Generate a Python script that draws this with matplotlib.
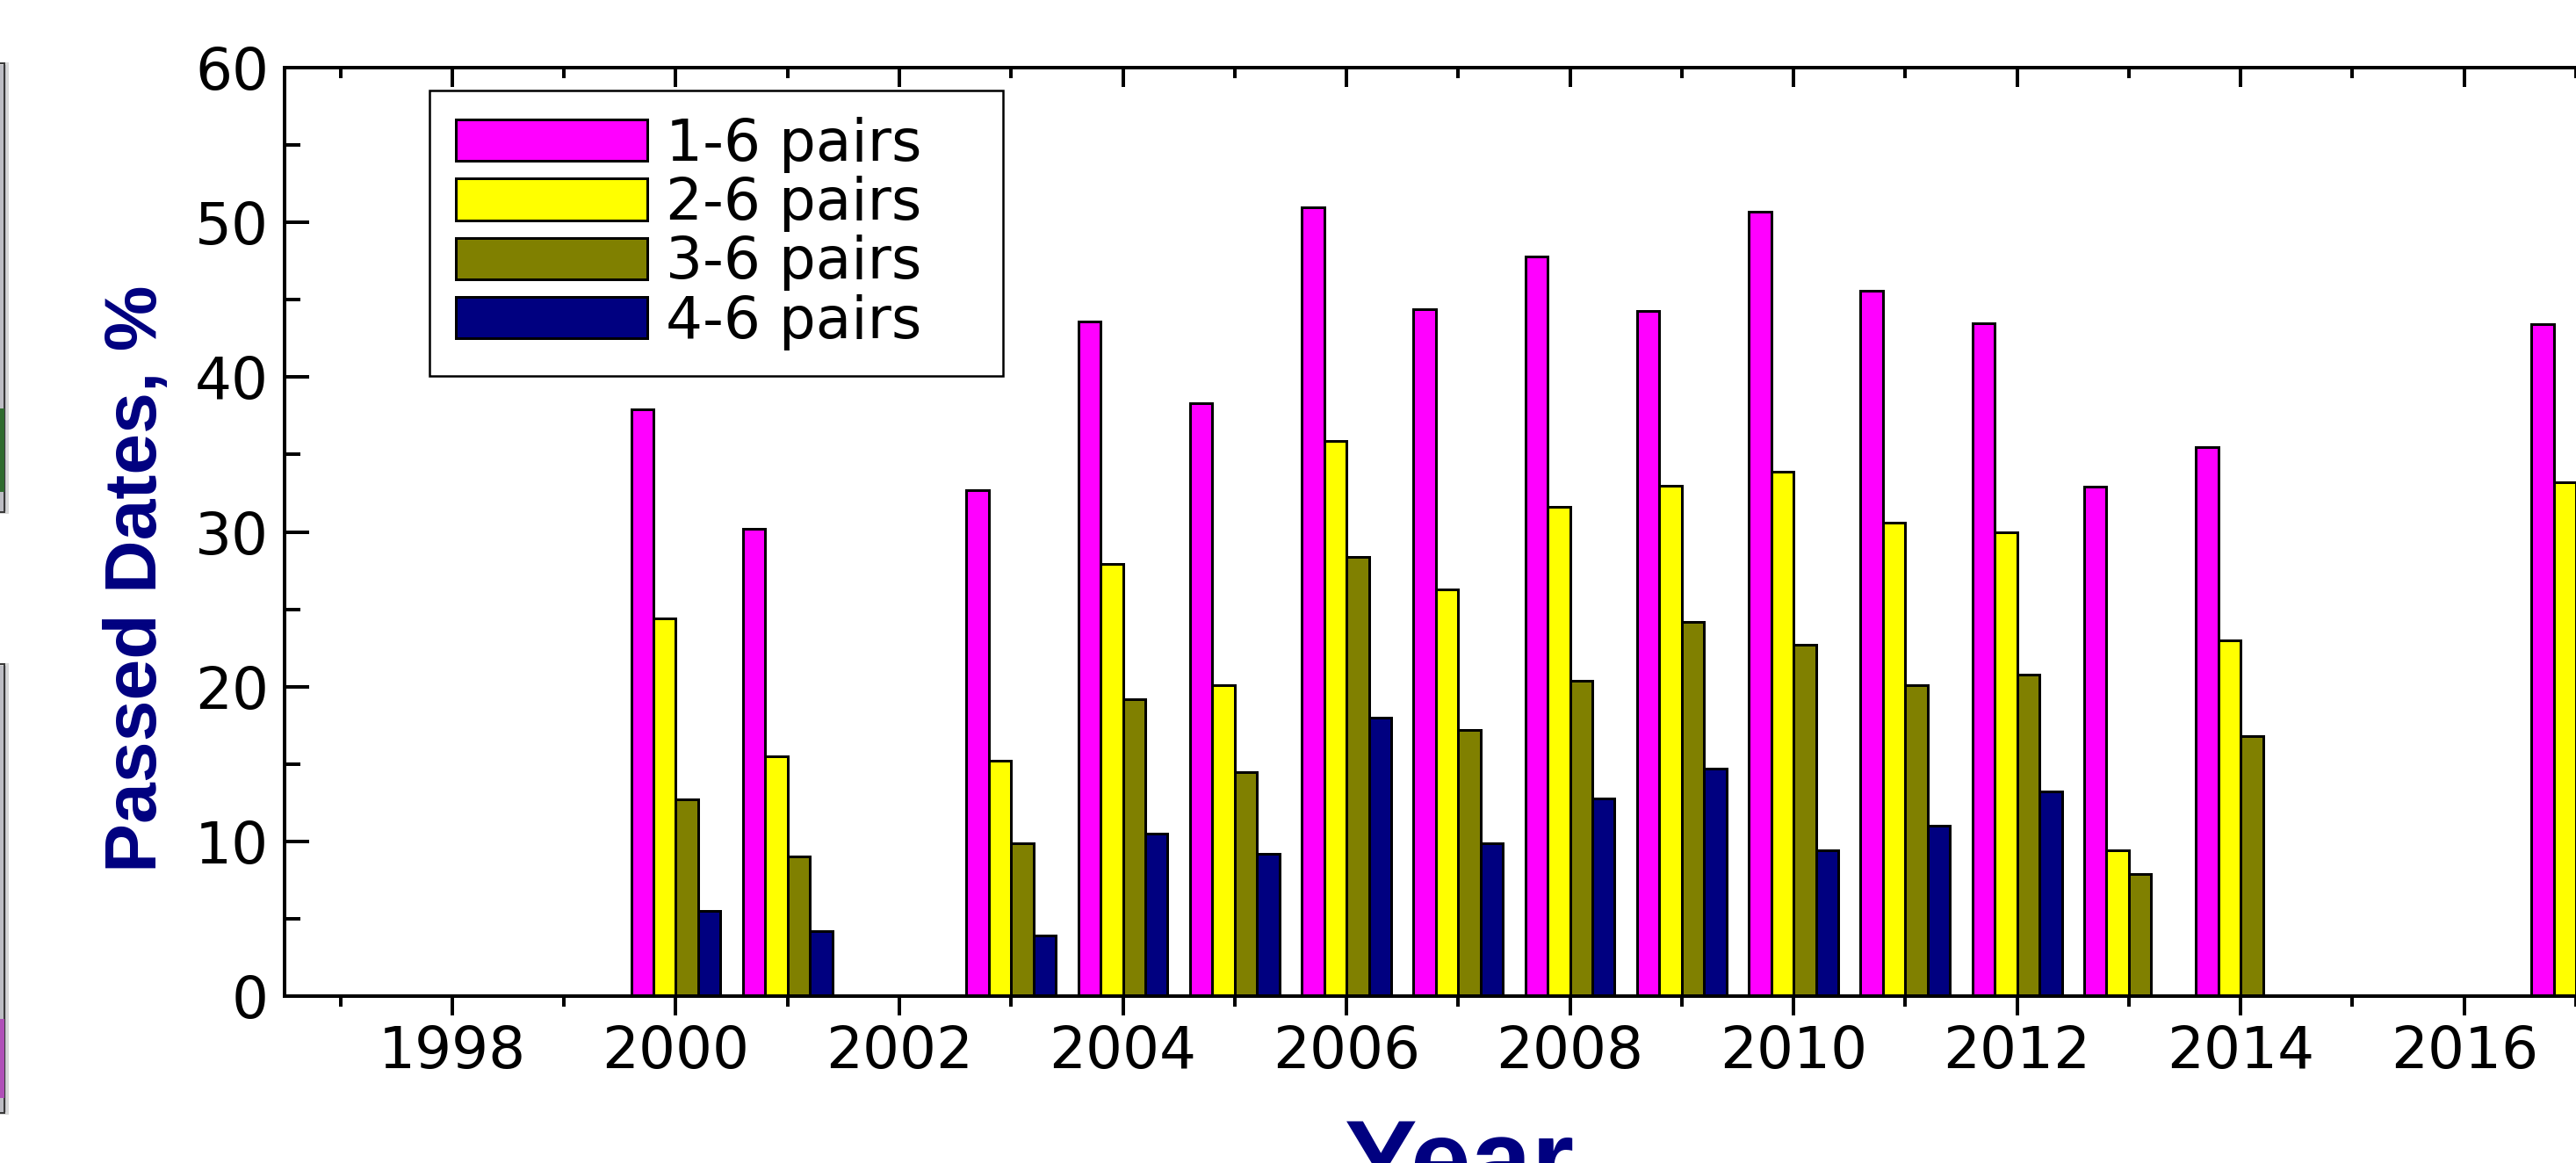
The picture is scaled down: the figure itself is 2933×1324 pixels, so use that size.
import numpy as np
import matplotlib
matplotlib.use("Agg")
import matplotlib.pyplot as plt
from matplotlib import font_manager
from matplotlib.patches import Rectangle

nan = np.nan

# values (percent of passed dates)
years = [2000, 2001, 2003, 2004, 2005, 2006, 2007, 2008, 2009, 2010, 2011, 2012, 2013, 2014, 2017]
pairs_1_6 = [37.9, 30.2, 32.7, 43.6, 38.3, 51.0, 44.4, 47.8, 44.3, 50.7, 45.6, 43.5, 32.9, 35.5, 43.4]
pairs_2_6 = [24.4, 15.5, 15.2, 27.9, 20.1, 35.9, 26.3, 31.6, 33.0, 33.9, 30.6, 30.0, 9.45, 23.0, 33.2]
pairs_3_6 = [12.7, 9.0, 9.9, 19.2, 14.5, 28.4, 17.2, 20.4, 24.2, 22.7, 20.1, 20.8, 7.9, 16.8, nan]
pairs_4_6 = [5.5, 4.2, 3.9, 10.5, 9.2, 18.0, 9.9, 12.8, 14.7, 9.4, 11.0, 13.2, nan, nan, nan]

labels = ["1-6 pairs", "2-6 pairs", "3-6 pairs", "4-6 pairs"]
colors = ["#FF00FF", "#FFFF00", "#808000", "#000080"]

xmajor = list(range(1998, 2017, 2))
xmajor_labels = [str(y) for y in xmajor]
xminor = list(range(1997, 2018))
ymajor = list(range(0, 61, 10))
yminor = list(range(5, 60, 10))

W, H, DPI = 2933, 1324, 100


def px(v):
    # pixels -> points
    return v * 72.0 / DPI


names = {f.name for f in font_manager.fontManager.ttflist}
narrow = next((f for f in ["Liberation Sans Narrow", "DejaVu Sans Condensed", "Liberation Sans"]
               if f in names), "DejaVu Sans")
label_size = 84 if narrow == "Liberation Sans" else 100
num_font = "DejaVu Sans"
num_size = 66

fig = plt.figure(figsize=(W / DPI, H / DPI), dpi=DPI)
ax_left, ax_top, ax_bot = 324, 77, 1134
ax = fig.add_axes([ax_left / W, (H - ax_bot) / H, (W - ax_left) / W, (ax_bot - ax_top) / H])

x = np.array(years, dtype=float)
offsets = [-0.3, -0.1, 0.1, 0.3]
for vals, off, col, lab in zip([pairs_1_6, pairs_2_6, pairs_3_6, pairs_4_6], offsets, colors, labels):
    ax.bar(x + off, vals, 0.2, color=col, edgecolor="black", linewidth=px(3), label=lab)

year_px = 127.4
ax.set_xlim(1996.5, 1996.5 + (W - ax_left) / year_px)
ax.set_ylim(0, 60)

ax.set_xticks(xmajor)
ax.set_xticklabels(xmajor_labels)
ax.set_xticks(xminor, minor=True)
ax.set_yticks(ymajor)
ax.set_yticks(yminor, minor=True)

for sp in ax.spines.values():
    sp.set_linewidth(px(4))
ax.spines["right"].set_visible(False)

ax.tick_params(axis="x", which="major", direction="out", length=px(22), width=px(4),
               pad=px(10), labelsize=px(num_size))
ax.tick_params(axis="x", which="minor", direction="out", length=px(12), width=px(4))
ax.tick_params(axis="y", which="major", direction="in", length=px(28), width=px(4),
               pad=px(18), labelsize=px(num_size), right=False)
ax.tick_params(axis="y", which="minor", direction="in", length=px(18), width=px(4), right=False)
for t in ax.get_xticklabels() + ax.get_yticklabels():
    t.set_family(num_font)

# top ticks point inward, bottom ones outward
top = ax.secondary_xaxis("top")
top.set_xticks(xmajor)
top.set_xticks(xminor, minor=True)
top.tick_params(which="major", direction="in", length=px(22), width=px(4), labeltop=False)
top.tick_params(which="minor", direction="in", length=px(12), width=px(4), labeltop=False)
top.spines["top"].set_linewidth(px(4))

leg = ax.legend(loc="upper left",
                bbox_to_anchor=((489 - ax_left) / (W - ax_left), (ax_bot - 103) / (ax_bot - ax_top),
                                (1142 - 489) / (W - ax_left), 0.0),
                mode="expand", borderaxespad=0, fancybox=False, framealpha=1,
                edgecolor="black", prop={"family": num_font, "size": px(num_size)},
                handlelength=3.3, handleheight=0.73, handletextpad=0.33,
                labelspacing=0.05, borderpad=0.45)
leg.get_frame().set_linewidth(px(2.5))

ax.set_ylabel("Passed Dates, %", fontsize=px(label_size), fontweight="bold", color="#000080", family=narrow)
ax.yaxis.label.set_rotation_mode("anchor")
ax.yaxis.label.set_va("baseline")
ax.yaxis.set_label_coords((178 - ax_left) / (W - ax_left), (ax_bot - 659) / (ax_bot - ax_top))

ax.set_xlabel("Year", fontsize=px(124), fontweight="bold", color="#000080", family="Liberation Sans")
ax.xaxis.label.set_va("top")
ax.xaxis.set_label_coords((1662 - ax_left) / (W - ax_left), (ax_bot - 1272) / (ax_bot - ax_top))

# slivers of neighbouring pictures on the left edge
for y0, y1, accent, a0, a1 in [(72, 583, "#2f6b2f", 465, 560), (756, 1267, "#b050b8", 1160, 1250)]:
    fig.add_artist(Rectangle((-2 / W, (H - y1) / H), 10 / W, (y1 - y0) / H, transform=fig.transFigure,
                             facecolor="#bdbdc4", edgecolor="#d8d8d8", linewidth=px(3)))
    fig.add_artist(Rectangle((-2 / W, (H - y1) / H), 7 / W, (y1 - y0) / H, transform=fig.transFigure,
                             facecolor="none", edgecolor="#3a3a3a", linewidth=px(2)))
    fig.add_artist(Rectangle((0, (H - a1) / H), 5 / W, (a1 - a0) / H, transform=fig.transFigure,
                             facecolor=accent, edgecolor="none"))

fig.savefig("out.png", dpi=DPI)
